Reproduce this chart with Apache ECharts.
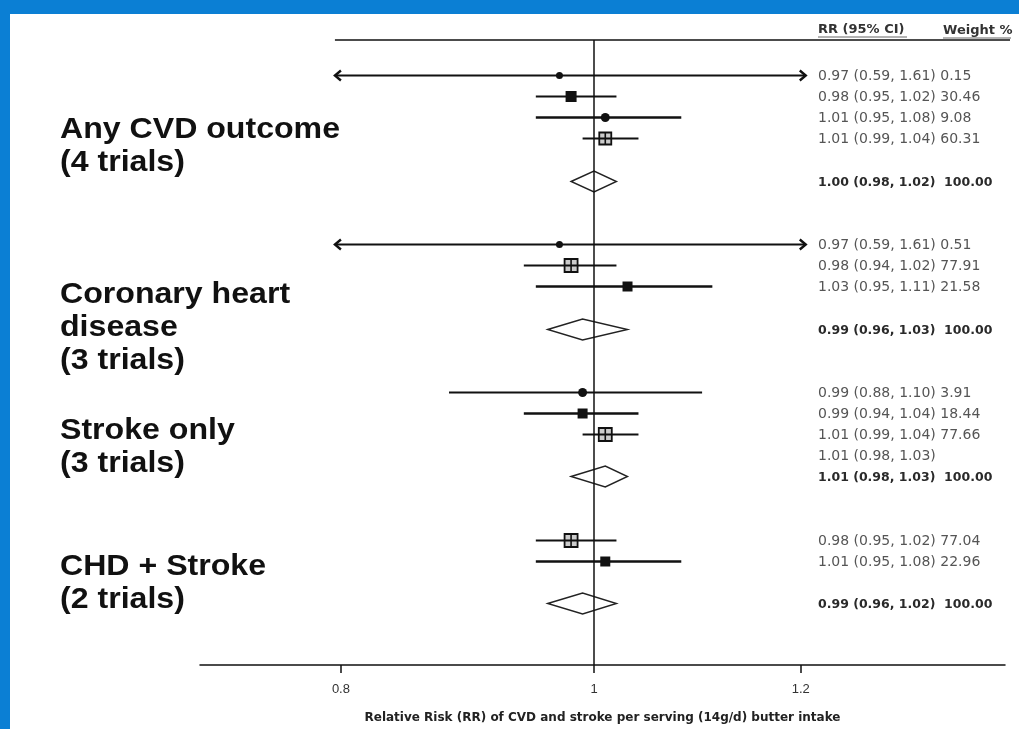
<!DOCTYPE html>
<html><head><meta charset="utf-8">
<script src="https://cdn.jsdelivr.net/npm/echarts@6/dist/echarts.min.js"></script>
<style>html,body{margin:0;padding:0;background:#0b7fd4;} #c{width:1019px;height:729px;}</style>
</head><body><div id="c"></div>
<script>
// ---- data (one entry per row slot; null = blank spacer row) ----
const groupLabels = ['Any CVD outcome\n(4 trials)', 'Coronary heart\ndisease\n(3 trials)', 'Stroke only\n(3 trials)', 'CHD + Stroke\n(2 trials)'];
const rowKind = ['study','study','study','study',null,'summary',null,null,'study','study','study',null,'summary',null,null,'study','study','study','text','summary',null,null,'study','study',null,'summary'];
const rr     = [0.97,0.98,1.01,1.01,null,1.00,null,null,0.97,0.98,1.03,null,0.99,null,null,0.99,0.99,1.01,1.01,1.01,null,null,0.98,1.01,null,0.99];
const ciLow  = [0.59,0.95,0.95,0.99,null,0.98,null,null,0.59,0.94,0.95,null,0.96,null,null,0.88,0.94,0.99,0.98,0.98,null,null,0.95,0.95,null,0.96];
const ciHigh = [1.61,1.02,1.08,1.04,null,1.02,null,null,1.61,1.02,1.11,null,1.03,null,null,1.10,1.04,1.04,1.03,1.03,null,null,1.02,1.08,null,1.02];
const weightPct = [0.15,30.46,9.08,60.31,null,100.00,null,null,0.51,77.91,21.58,null,100.00,null,null,3.91,18.44,77.66,null,100.00,null,null,77.04,22.96,null,100.00];
const xTicks = [0.8, 1, 1.2];
const headerRR = 'RR (95% CI)';
const headerWeight = 'Weight %';
const xTitle = 'Relative Risk (RR) of CVD and stroke per serving (14g/d) butter intake';

// ---- build ----
const kinds = ['study','summary','text'];
const f2 = v => v.toFixed(2);
const seriesData = [];
const rowText = [];
rowKind.forEach((k, i) => {
  if (!k) return;
  seriesData.push([i, Math.log(rr[i]), Math.log(ciLow[i]), Math.log(ciHigh[i]), weightPct[i] == null ? 0 : weightPct[i], kinds.indexOf(k)]);
  let t = f2(rr[i]) + ' (' + f2(ciLow[i]) + ', ' + f2(ciHigh[i]) + ')';
  if (k === 'study') t += ' ' + f2(weightPct[i]);
  if (k === 'summary') t += '  ' + f2(weightPct[i]);
  rowText.push(t);
});
const clipLo = Math.log(xTicks[0]);
const clipHi = Math.log(xTicks[xTicks.length - 1]);

function renderItem(params, api) {
  const slot = api.value(0);
  const est = api.value(1), lo = api.value(2), hi = api.value(3);
  const w = api.value(4);
  const kind = kinds[api.value(5)];
  const cs = params.coordSys;
  const p = api.coord([est, slot]);
  const y = Math.round(p[1]) + 0.5;
  const xc = p[0];
  const children = [];
  const ink = '#111';
  if (kind === 'study') {
    const cl = lo < clipLo, ch = hi > clipHi;
    const x1 = api.coord([cl ? clipLo : lo, slot])[0] - (cl ? 6 : 0);
    const x2 = api.coord([ch ? clipHi : hi, slot])[0] + (ch ? 5 : 0);
    const lw = (w > 5 && w < 25) ? 2.6 : 2.2;
    children.push({type: 'line', shape: {x1: x1, y1: y, x2: x2, y2: y}, style: {stroke: ink, lineWidth: lw}});
    if (cl) children.push({type: 'polyline', shape: {points: [[x1 + 6, y - 5], [x1, y], [x1 + 6, y + 5]]}, style: {stroke: ink, lineWidth: 2.4, fill: null}});
    if (ch) children.push({type: 'polyline', shape: {points: [[x2 - 6, y - 5], [x2, y], [x2 - 6, y + 5]]}, style: {stroke: ink, lineWidth: 2.4, fill: null}});
    if (w < 10) {
      const r = w < 1 ? 3.5 : 4.5;
      children.push({type: 'circle', shape: {cx: xc, cy: y, r: r}, style: {fill: ink}});
    } else if (w < 50) {
      const s = w > 25 ? 11 : 10;
      children.push({type: 'rect', shape: {x: xc - s / 2, y: y - s / 2, width: s, height: s}, style: {fill: ink}});
    } else {
      const s = w > 70 ? 13 : 12;
      children.push({type: 'rect', shape: {x: xc - s / 2, y: y - s / 2, width: s, height: s}, style: {fill: 'rgba(0,0,0,0.2)', stroke: ink, lineWidth: 1.8}});
      children.push({type: 'line', shape: {x1: xc, y1: y - s / 2, x2: xc, y2: y + s / 2}, style: {stroke: ink, lineWidth: 1.6}});
    }
  } else if (kind === 'summary') {
    const xl = api.coord([lo, slot])[0], xr = api.coord([hi, slot])[0];
    const h = 10.5;
    children.push({type: 'polygon', shape: {points: [[xl, y], [xc, y - h], [xr, y], [xc, y + h]]}, style: {fill: null, stroke: '#222', lineWidth: 1.4}});
  }
  const bold = kind === 'summary';
  children.push({type: 'text', style: {
    text: rowText[params.dataIndex], x: cs.x + cs.width - 187, y: y + 1,
    align: 'left', verticalAlign: 'middle',
    fontFamily: 'DejaVu Sans', fontSize: bold ? 12.5 : 14, fontWeight: bold ? 'bold' : 'normal',
    fill: bold ? '#2a2a2a' : '#555'
  }});
  return {type: 'group', children: children};
}

const chart = echarts.init(document.getElementById('c'));
const gridTop = 40, gridBottom = 62;
chart.setOption({
  animation: false,
  backgroundColor: '#0b7fd4',
  grid: {left: 200, right: 14, top: gridTop, bottom: gridBottom},
  xAxis: {
    type: 'value', min: -0.3474, max: 0.3624,
    axisLine: {show: true, onZero: false, lineStyle: {color: '#111', width: 1.5}},
    axisTick: {show: true, customValues: xTicks.map(Math.log), length: 8, lineStyle: {color: '#111', width: 1.5}},
    axisLabel: {show: true, customValues: xTicks.map(Math.log), margin: 18,
      formatter: v => { const t = xTicks.find(t => Math.abs(Math.log(t) - v) < 1e-6); return t == null ? '' : String(t); },
      fontFamily: 'Liberation Sans', fontSize: 13, color: '#333'},
    splitLine: {show: false},
    name: xTitle, nameLocation: 'middle', nameGap: 47,
    nameTextStyle: {fontFamily: 'DejaVu Sans', fontWeight: 'bold', fontSize: 12, color: '#222'}
  },
  yAxis: {type: 'value', inverse: true, min: -1.65, max: 27.92, show: false},
  series: [{
    type: 'custom', renderItem: renderItem, data: seriesData,
    encode: {x: [1, 2, 3], y: 0}, clip: false,
    markLine: {silent: true, symbol: ['none', 'none'], label: {show: false},
      lineStyle: {color: '#111', width: 1.5, type: 'solid'}, data: [{xAxis: 0}]}
  }]
});

const leftX = chart.convertToPixel({xAxisIndex: 0}, clipLo) - 6;
const labelTops = [113, 278, 414, 550];
const graphics = [
  {type: 'rect', z: -100, shape: {x: 10, y: 14, width: 1009, height: 715}, style: {fill: '#fff'}},
  {type: 'line', shape: {x1: leftX, y1: gridTop, x2: 1010, y2: gridTop}, style: {stroke: '#111', lineWidth: 1.5}},
  {type: 'text', style: {text: headerRR, x: 818, y: 30, verticalAlign: 'middle', fontFamily: 'DejaVu Sans', fontWeight: 'bold', fontSize: 13, fill: '#333'}},
  {type: 'line', shape: {x1: 818, y1: 37, x2: 907, y2: 37}, style: {stroke: '#666', lineWidth: 1}},
  {type: 'text', style: {text: headerWeight, x: 943, y: 31, verticalAlign: 'middle', fontFamily: 'DejaVu Sans', fontWeight: 'bold', fontSize: 13, fill: '#333'}},
  {type: 'line', shape: {x1: 943, y1: 38, x2: 1011, y2: 38}, style: {stroke: '#666', lineWidth: 1}}
];
groupLabels.forEach((g, i) => {
  graphics.push({type: 'text', x: 60, y: labelTops[i], scaleX: 1.07, style: {text: g, x: 0, y: 0, verticalAlign: 'top', fontFamily: 'Liberation Sans', fontWeight: 'bold', fontSize: 30, lineHeight: 33, fill: '#111'}});
});
chart.setOption({graphic: graphics});
</script></body></html>
